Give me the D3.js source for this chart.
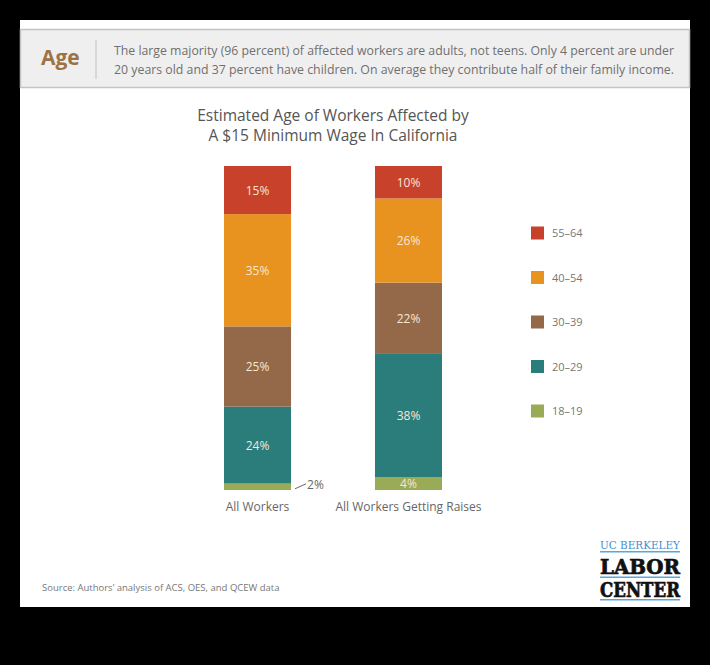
<!DOCTYPE html>
<html>
<head>
<meta charset="utf-8">
<script src="https://cdn.jsdelivr.net/npm/d3@7"></script>
<style>
  html, body { margin: 0; padding: 0; background: #000; }
  svg { display: block; }
  text { font-family: "Open Sans", "Noto Sans", sans-serif; }
  text.serif { font-family: "DejaVu Serif", "Liberation Serif", serif; }
</style>
</head>
<body>
<svg id="chart" width="710" height="665"></svg>
<script>
// ---- data ----
const categories = ["All Workers", "All Workers Getting Raises"];
const ageGroups = ["18–19", "20–29", "30–39", "40–54", "55–64"];
const allWorkers = [2, 24, 25, 35, 15];
const workersGettingRaises = [4, 38, 22, 26, 10];
const legendOrder = ["55–64", "40–54", "30–39", "20–29", "18–19"];
const titleLines = ["Estimated Age of Workers Affected by", "A $15 Minimum Wage In California"];
const headerLines = [
  "The large majority (96 percent) of affected workers are adults, not teens. Only 4 percent are under",
  "20 years old and 37 percent have children. On average they contribute half of their family income."
];
const sourceText = "Source: Authors’ analysis of ACS, OES, and QCEW data";

const colors = {
  "18–19": "#9aab57",
  "20–29": "#2b7d7c",
  "30–39": "#93694a",
  "40–54": "#e8921f",
  "55–64": "#c8412a"
};

const seriesValues = [allWorkers, workersGettingRaises];
const table = categories.map((c, i) => {
  const row = { category: c };
  ageGroups.forEach((g, j) => row[g] = seriesValues[i][j]);
  return row;
});

const svg = d3.select("#chart");

// panel
svg.append("rect").attr("x", 20).attr("y", 20).attr("width", 670).attr("height", 587).attr("fill", "#fff");

// header band
svg.append("rect").attr("x", 20.5).attr("y", 29.5).attr("width", 669).attr("height", 58)
  .attr("fill", "#efefef").attr("stroke", "#c4c4c4").attr("stroke-width", 1.5);
svg.append("text").attr("x", 41).attr("y", 65).text("Age")
  .attr("font-size", 21).attr("font-weight", 700).attr("fill", "#9c7247");
svg.append("line").attr("x1", 96).attr("x2", 96).attr("y1", 40).attr("y2", 79)
  .attr("stroke", "#c8c8c8").attr("stroke-width", 1.2);
headerLines.forEach((t, i) => {
  svg.append("text").attr("x", 114).attr("y", 55 + i * 18.5).text(t)
    .attr("font-size", 12.3).attr("fill", "#707070")
    .attr("textLength", 560).attr("lengthAdjust", "spacingAndGlyphs");
});

// title
titleLines.forEach((t, i) => {
  svg.append("text").attr("x", 333).attr("y", 121 + i * 20).attr("text-anchor", "middle")
    .text(t).attr("font-size", 15.5).attr("fill", "#555");
});

// scales
const x = d3.scaleBand().domain(categories).range([148.5, 517.5]).paddingInner(0.556).paddingOuter(0.5);
const y = d3.scaleLinear().domain([0, 1]).range([490, 166]);

const stack = d3.stack().keys(ageGroups).offset(d3.stackOffsetExpand);
const series = stack(table);

const g = svg.append("g");
series.forEach(s => {
  g.selectAll(null).data(s).join("rect")
    .attr("x", d => x(d.data.category))
    .attr("width", x.bandwidth())
    .attr("y", d => y(d[1]))
    .attr("height", d => y(d[0]) - y(d[1]))
    .attr("fill", colors[s.key]);
});

// segment labels
series.forEach(s => {
  s.forEach(d => {
    const v = d.data[s.key];
    const h = y(d[0]) - y(d[1]);
    const cx = x(d.data.category) + x.bandwidth() / 2;
    const cy = (y(d[0]) + y(d[1])) / 2;
    if (h >= 12) {
      g.append("text").attr("x", cx).attr("y", cy + 4.5).attr("text-anchor", "middle")
        .text(v + "%").attr("font-size", 12).attr("fill", "#f6e6d6");
    } else {
      const xr = x(d.data.category) + x.bandwidth();
      g.append("line").attr("x1", xr + 4).attr("y1", cy + 2).attr("x2", xr + 15).attr("y2", cy - 3)
        .attr("stroke", "#666").attr("stroke-width", 1);
      g.append("text").attr("x", xr + 16).attr("y", cy + 2).text(v + "%")
        .attr("font-size", 12).attr("fill", "#666");
    }
  });
});

// category axis labels
const xAxis = d3.axisBottom(x).tickSize(0).tickPadding(0);
const ax = svg.append("g").attr("transform", "translate(0,502)").call(xAxis);
ax.select(".domain").remove();
ax.selectAll("text").attr("font-size", 12).attr("fill", "#666")
  .style("font-family", "'Open Sans', 'Noto Sans', sans-serif");

// legend
const legY = d3.scalePoint().domain(legendOrder).range([233, 411]);
const leg = svg.append("g");
legendOrder.forEach(k => {
  leg.append("rect").attr("x", 531).attr("y", legY(k) - 6.5).attr("width", 13).attr("height", 13)
    .attr("fill", colors[k]);
  leg.append("text").attr("x", 552).attr("y", legY(k) + 4).text(k)
    .attr("font-size", 11).attr("fill", "#777");
});

// source
svg.append("text").attr("x", 42).attr("y", 591).text(sourceText)
  .attr("font-size", 9.5).attr("fill", "#777");

// logo
const logo = svg.append("g");
logo.append("text").attr("class", "serif").attr("x", 600).attr("y", 549).text("UC BERKELEY")
  .attr("font-size", 10.5).attr("fill", "#3f8fcf")
  .attr("textLength", 80).attr("lengthAdjust", "spacingAndGlyphs");
logo.append("rect").attr("x", 600).attr("y", 551).attr("width", 80).attr("height", 1.5).attr("fill", "#5aa7dd");
logo.append("text").attr("class", "serif").attr("x", 600).attr("y", 573.5).text("LABOR")
  .attr("font-weight", 900).attr("font-size", 20).attr("fill", "#111")
  .attr("stroke", "#111").attr("stroke-width", 0.7)
  .attr("textLength", 80).attr("lengthAdjust", "spacingAndGlyphs");
logo.append("rect").attr("x", 600).attr("y", 576.5).attr("width", 80).attr("height", 1.5).attr("fill", "#5aa7dd");
logo.append("text").attr("class", "serif").attr("x", 600).attr("y", 597).text("CENTER")
  .attr("font-weight", 900).attr("font-size", 20).attr("fill", "#111")
  .attr("stroke", "#111").attr("stroke-width", 0.7)
  .attr("textLength", 80).attr("lengthAdjust", "spacingAndGlyphs");
logo.append("rect").attr("x", 600).attr("y", 599).attr("width", 80).attr("height", 1.5).attr("fill", "#5aa7dd");
</script>
</body>
</html>
